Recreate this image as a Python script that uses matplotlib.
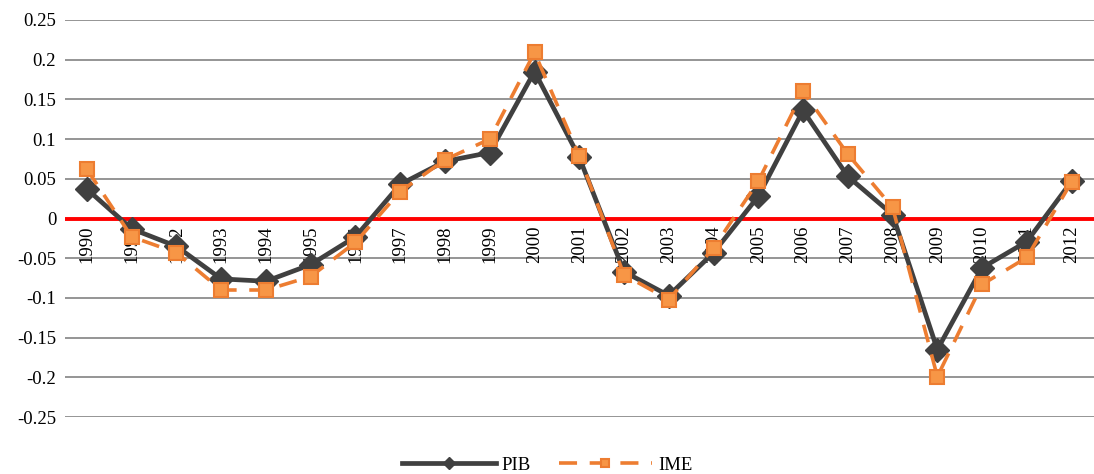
import numpy as np
import matplotlib.pyplot as plt

years = [str(y) for y in range(1990, 2013)]
pib = [0.037, -0.013, -0.035, -0.076, -0.079, -0.058, -0.023, 0.043, 0.072, 0.083,
       0.185, 0.077, -0.067, -0.097, -0.043, 0.028, 0.136, 0.053, 0.005, -0.165,
       -0.062, -0.029, 0.047]
ime = [0.062, -0.023, -0.043, -0.090, -0.090, -0.073, -0.030, 0.034, 0.074, 0.100,
       0.209, 0.079, -0.071, -0.102, -0.037, 0.047, 0.160, 0.081, 0.014, -0.199,
       -0.083, -0.049, 0.046]

plt.rcParams['font.family'] = ['Liberation Serif', 'DejaVu Serif']

fig = plt.figure(figsize=(10.94, 4.74), dpi=100)
ax = fig.add_axes([0.059, 0.12, 0.941, 0.838])

x = np.arange(len(years))

ax.set_ylim(-0.25, 0.25)
ax.set_xlim(-0.5, len(years) - 0.5)
yt = np.round(np.arange(-0.25, 0.2501, 0.05), 2)
ax.set_yticks(yt)
ax.set_yticklabels(['0' if v == 0 else ('%g' % v) for v in yt], fontsize=13.5)
for v in yt:
    if v != 0:
        ax.axhline(v, color='#8c8c8c', lw=1.3, zorder=1)
ax.axhline(0, color='#ff0000', lw=2.8, zorder=2)

ax.plot(x, pib, color='#404040', lw=3.4, marker='D', markersize=12,
        markerfacecolor='#404040', markeredgecolor='#404040', label='PIB', zorder=3)
ax.plot(x, ime, color='#ED7D31', lw=2.6, dashes=(5, 3.5), marker='s', markersize=10,
        markerfacecolor='#F79646', markeredgecolor='#ED7D31', markeredgewidth=1.5,
        label='IME', zorder=4)

ax.spines['bottom'].set_position(('data', 0))
for s in ax.spines.values():
    s.set_visible(False)
ax.set_xticks(x)
ax.set_xticklabels(years, rotation=90, fontsize=13.5)
ax.tick_params(axis='x', length=0, pad=5)
ax.tick_params(axis='y', length=0, pad=6)

fig.legend(loc='lower center', bbox_to_anchor=(0.5, -0.035), ncol=2, frameon=False,
           fontsize=13.5, handlelength=5, columnspacing=1.5, handletextpad=0.3,
           markerscale=0.55)

fig.savefig('out.png', dpi=100)
